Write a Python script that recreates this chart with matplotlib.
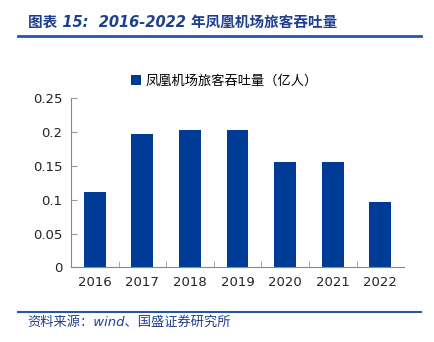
import matplotlib
matplotlib.use("Agg")
import matplotlib.pyplot as plt
from matplotlib.lines import Line2D

plt.rcParams['font.family'] = ['DejaVu Sans', 'Noto Sans CJK SC']

# data
years = ["2016", "2017", "2018", "2019", "2020", "2021", "2022"]
throughput = [0.111, 0.196, 0.202, 0.203, 0.156, 0.155, 0.097]
yticks = [0, 0.05, 0.1, 0.15, 0.2, 0.25]
ytick_labels = ["0", "0.05", "0.1", "0.15", "0.2", "0.25"]

bar_color = "#003C96"
head_color = "#1F3F8F"

fig = plt.figure(figsize=(4.35, 3.42), dpi=100)
ax = fig.add_axes([0.163, 0.218, 0.766, 0.496])

x = range(len(years))
ax.bar(x, throughput, width=0.46, color=bar_color, label="凤凰机场旅客吞吐量（亿人）")

ax.set_xlim(-0.5, len(years) - 0.5)
ax.set_ylim(0, 0.25)
ax.set_yticks(yticks)
ax.set_yticklabels(ytick_labels)
ax.set_xticks(list(x))
ax.set_xticklabels(years)
ax.set_xticks([i + 0.5 for i in range(len(years) - 1)], minor=True)

ax.tick_params(axis="x", which="major", length=0, pad=6, labelsize=9.5, colors="#222222")
ax.tick_params(axis="x", which="minor", direction="in", length=4, color="#999999")
ax.tick_params(axis="y", direction="in", length=4, color="#999999", pad=6,
               labelsize=9.5, labelcolor="#222222")
for s in ["top", "right"]:
    ax.spines[s].set_visible(False)
for s in ["left", "bottom"]:
    ax.spines[s].set_color("#888888")
    ax.spines[s].set_linewidth(0.8)

ax.legend(loc="lower center", bbox_to_anchor=(0.46, 1.03), frameon=False,
          fontsize=9.5, handlelength=0.8, handleheight=0.8, handletextpad=0.3,
          borderaxespad=0)

# header and footer
fig.text(0.064, 0.935, "图表 15:  2016-2022 年凤凰机场旅客吞吐量", fontsize=10.5,
         color=head_color, style="italic", fontweight="bold", va="center")
fig.add_artist(Line2D([0.041, 0.968], [0.894, 0.894], color="#2557A7", lw=2))
fig.add_artist(Line2D([0.041, 0.968], [0.088, 0.088], color="#2557A7", lw=1.5))
fig.text(0.064, 0.058, "资料来源：wind、国盛证券研究所", fontsize=9.5,
         color=head_color, style="italic", va="center")

fig.savefig("out.png", dpi=100)
